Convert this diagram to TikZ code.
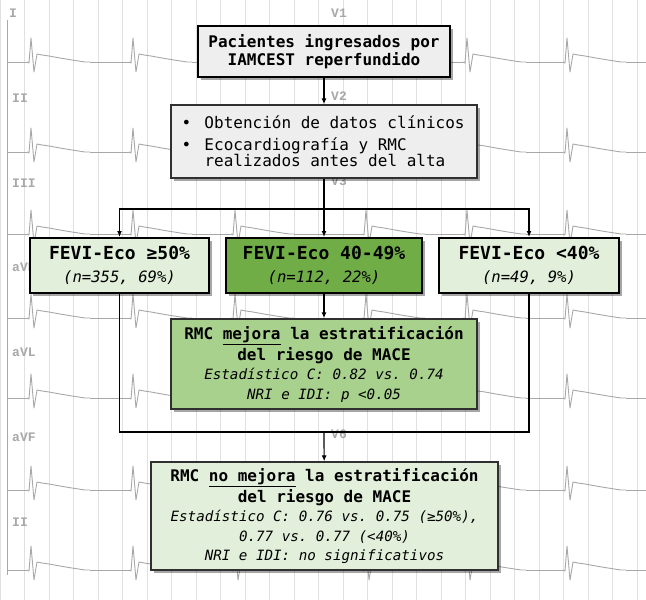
\documentclass[tikz,border=0pt]{standalone}
\usepackage{fontspec}
\setmainfont{DejaVu Sans Mono}
\newfontfamily\ecgfont{Liberation Mono}
\usetikzlibrary{arrows.meta,shadows}
\definecolor{boxgray}{HTML}{EEEEEE}
\definecolor{lgreen}{HTML}{E2EFDA}
\definecolor{mgreen}{HTML}{70AD47}
\definecolor{sgreen}{HTML}{A9D18E}
\definecolor{ecggray}{HTML}{A8A8A8}
\definecolor{gridgray}{HTML}{E0E0E0}
\definecolor{edgegray}{HTML}{303030}
\newcommand\monosp{\spaceskip=0.602em\relax\xspaceskip=0.602em\relax}
\newcommand\fmain{\fontsize{16}{21.5}\selectfont\monosp}
\newcommand\fmainb{\fontsize{16}{21}\selectfont\bfseries\monosp}
\newcommand\ftitle{\fontsize{18}{23}\selectfont\bfseries\monosp}
\newcommand\fnum{\fontsize{15.6}{23}\selectfont\itshape\monosp}
\newcommand\fstat{\fontsize{14.2}{19.5}\selectfont\itshape\monosp}
\tikzset{
  box/.style={draw, rectangle, inner sep=0pt,
    drop shadow={shadow xshift=2.5pt, shadow yshift=-2.5pt, opacity=0.35, fill=black}},
  heavy/.style={box, line width=2pt, draw=black},
  light/.style={box, line width=1.3pt, draw=edgegray},
  conn/.style={line width=1.2pt, -{Latex[length=6pt,width=5pt]}},
  plain/.style={line width=1.2pt},
  ecg/.style={ecggray, line width=0.9pt, line join=round},
  lead/.style={text=ecggray, font=\ecgfont\bfseries\fontsize{13}{13}\selectfont, inner sep=0pt, anchor=west},
  beat/.pic={\draw[ecg] (-3,0) -- (-1,1) -- (1,-24) -- (4,10) -- (7,-8) -- (12,-7)
     .. controls (20,-6) and (24,-5) .. (30,-4) -- (42,-2) .. controls (48,-1) .. (55,0) -- (60,0);}
}
\begin{document}
\begin{tikzpicture}[x=1pt,y=-1pt]
\useasboundingbox (0,0) rectangle (646,600);
\fill[white] (0,0) rectangle (646,600);
% ECG background
\begin{scope}
\clip (0,0) rectangle (646,600);
\draw[gridgray, line width=0.6pt] (-7.5,-7.5) grid[step=24.5] (660,620);
\draw[ecg] (7,20) -- (7,575);
\foreach \y in {62,152,234,318,398,490,570}{
  \draw[ecg] (7,\y) -- (27,\y);
  \foreach \a/\b in {30/132,132/234,234/365,365/466,466/566,566/700}{
    \pic at (\a,\y) {beat};
    \draw[ecg] (\a+60,\y) -- (\b-3,\y);
  }
}
\node[lead] (lI) at (9,13) {I};
\node[lead] (lII) at (12,98) {II};
\node[lead] (lIII) at (12,183) {III};
\node[lead] (laVR) at (12,267) {aVR};
\node[lead] (laVL) at (12,352) {aVL};
\node[lead] (laVF) at (12,437) {aVF};
\node[lead] (lIIb) at (12,522) {II};
\node[lead] (lV1) at (331,13) {V1};
\node[lead] (lV2) at (331,96) {V2};
\node[lead] (lV3) at (331,181) {V3};
\node[lead] (lV6) at (331,434) {V6};
\end{scope}
% boxes
\node[heavy, fill=boxgray, minimum width=252pt, minimum height=51pt, align=center, text width=245pt]
  (b1) at (324,51.5) {\fmainb Pacientes ingresados por\\IAMCEST reperfundido};
\node[light, fill=boxgray, minimum width=306pt, minimum height=73pt, align=left, text width=285pt]
  (b2) at (324,141.5) {\fmain\makebox[23pt][l]{•}Obtención de datos clínicos\\
  \makebox[23pt][l]{•}Ecocardiografía y RMC\\\hspace*{23pt}realizados antes del alta};
\node[heavy, fill=lgreen, minimum width=179pt, minimum height=55pt, align=center, text width=172pt]
  (L) at (119.5,265.5) {{\ftitle FEVI-Eco ≥50\%\par}{\fnum (n=355, 69\%)\par}};
\node[heavy, fill=mgreen, minimum width=196pt, minimum height=55pt, align=center, text width=190pt]
  (M) at (324,265.5) {{\ftitle FEVI-Eco 40-49\%\par}{\fnum (n=112, 22\%)\par}};
\node[heavy, fill=lgreen, minimum width=180pt, minimum height=55pt, align=center, text width=172pt]
  (R) at (529,265.5) {{\ftitle FEVI-Eco <40\%\par}{\fnum (n=49, 9\%)\par}};
\node[light, fill=sgreen, minimum width=306pt, minimum height=90pt, align=center, text width=300pt]
  (mej) at (324,364) {{\fmainb RMC \underline{mejora} la estratificación\\del riesgo de MACE\par}
  {\fstat Estadístico C: 0.82 vs. 0.74\\NRI e IDI: p <0.05\par}};
\node[light, fill=lgreen, minimum width=347pt, minimum height=108pt, align=center, text width=340pt]
  (bot) at (324.5,516) {{\fmainb RMC \underline{no mejora} la estratificación\\del riesgo de MACE\par}
  {\fstat Estadístico C: 0.76 vs. 0.75 (≥50\%),\\0.77 vs. 0.77 (<40\%)\\NRI e IDI: no significativos\par}};
% connectors
\coordinate (j1) at (324,209);
\coordinate (j2) at (324,432);
\draw[conn] (b1) -- (b2);
\draw[plain] (b2.south) -- (j1);
\draw[conn] (j1) -- (M.north);
\draw[conn] (j1) -| (L.north);
\draw[conn] (j1) -| (R.north);
\draw[conn] (M) -- (mej);
\draw[plain] (L.south) |- (j2);
\draw[plain] (R.south) |- (j2);
\draw[conn] (j2) -- (bot);
\end{tikzpicture}
\end{document}
